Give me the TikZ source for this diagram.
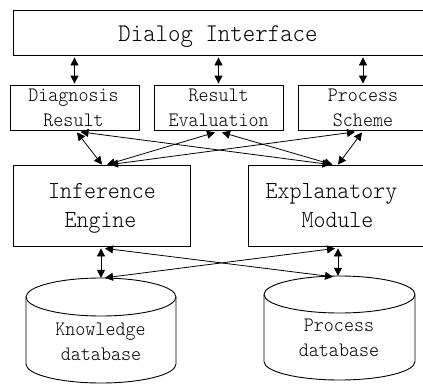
\documentclass[tikz,border=0pt]{standalone}
\usepackage{fontspec}
\usetikzlibrary{arrows.meta,calc}
\newfontfamily\lightmono{lmmonolt10-regular}[Extension=.otf,FakeStretch=0.93]
\begin{document}
\begin{tikzpicture}[x=1pt,y=-1pt,
  box/.style={draw,line width=0.8pt,inner sep=0pt},
  txt/.style={inner sep=0pt,anchor=base},
  bigtxt/.style={txt,font=\lightmono\fontsize{25.5}{30}\selectfont},
  midtxt/.style={txt,font=\lightmono\fontsize{24.5}{30}\selectfont},
  smalltxt/.style={txt,font=\lightmono\fontsize{20.5}{24}\selectfont},
  dbbody/.style={inner sep=0pt},
  dbline/.style={line width=0.9pt},
  conn/.style={line width=0.8pt,{Triangle[length=8pt,width=8pt]}-{Triangle[length=8pt,width=8pt]}}]
\useasboundingbox (0,0) rectangle (423,383);

% top-level interface
\node[box,minimum width=412pt,minimum height=45pt] (dlg) at (219,32.5) {};
\node[bigtxt] (dlgT) at (218,41.5) {Dialog Interface};

% output modules
\node[box,minimum width=129pt,minimum height=45pt] (diag) at (74.5,107.5) {};
\node[smalltxt] (diagA) at (73.5,101.7) {Diagnosis};
\node[smalltxt] (diagB) at (73.5,126) {Result};

\node[box,minimum width=129pt,minimum height=45pt] (eval) at (218.5,107.5) {};
\node[smalltxt] (evalA) at (218.6,101.7) {Result};
\node[smalltxt] (evalB) at (218.6,126) {Evaluation};

\node[box,minimum width=130pt,minimum height=45pt] (proc) at (363,107.5) {};
\node[smalltxt] (procA) at (363,101.7) {Process};
\node[smalltxt] (procB) at (363,126) {Scheme};

% reasoning modules
\node[box,minimum width=177pt,minimum height=81pt] (inf) at (101.5,205.5) {};
\node[midtxt] (infA) at (102,198.2) {Inference};
\node[midtxt] (infB) at (100.5,227.8) {Engine};

\node[box,minimum width=177pt,minimum height=81pt] (expl) at (336.5,205.5) {};
\node[midtxt] (explA) at (331.5,198) {Explanatory};
\node[midtxt] (explB) at (337.5,227.5) {Module};

% databases
\node[dbbody,minimum width=150pt,minimum height=105pt] (kdb) at (101,330.5) {};
\draw[dbline] (101,297) ellipse [x radius=75pt,y radius=19pt];
\draw[dbline] (26,297) -- (26,364) arc[start angle=180,end angle=360,x radius=75pt,y radius=19pt] -- (176,297);
\node[smalltxt] (kdbA) at (100.5,335) {Knowledge};
\node[smalltxt] (kdbB) at (101,360) {database};

\node[dbbody,minimum width=151pt,minimum height=104pt] (pdb) at (339.5,328) {};
\draw[dbline] (339.5,294.5) ellipse [x radius=75.5pt,y radius=18.5pt];
\draw[dbline] (264,294.5) -- (264,361.5) arc[start angle=180,end angle=360,x radius=75.5pt,y radius=18.5pt] -- (415,294.5);
\node[smalltxt] (pdbA) at (339,331.7) {Process};
\node[smalltxt] (pdbB) at (339,356) {database};

% interface links
\draw[conn,shorten <=2pt,shorten >=1pt] (dlg.south -| diag.north) -- (diag.north);
\draw[conn,shorten <=2pt,shorten >=1pt] (dlg.south -| eval.north) -- (eval.north);
\draw[conn,shorten <=2pt,shorten >=1pt] (dlg.south -| proc.north) -- (proc.north);

% module cross links
\draw[conn] ($(diag.south)+(2.5,2)$) -- ($(inf.north)+(0.5,0)$);
\draw[conn] ($(diag.south)+(6,1.5)$) -- ($(expl.north)+(-6,0)$);
\draw[conn] ($(eval.south)+(-3.5,2)$) -- ($(inf.north)+(5.5,0)$);
\draw[conn] ($(eval.south)+(3.5,2)$) -- ($(expl.north)+(-4,0)$);
\draw[conn] ($(proc.south)+(-8,1.5)$) -- ($(inf.north)+(8.5,0)$);
\draw[conn] ($(proc.south)+(-1,2)$) -- ($(expl.north)+(1.5,0)$);

% database links
\draw[conn] ($(inf.south)+(-0.5,2)$) -- (kdb.north);
\draw[conn] ($(inf.south)+(3.5,2)$) -- ($(pdb.north)+(-6.5,1)$);
\draw[conn] ($(expl.south)+(-1.5,2)$) -- ($(kdb.north)+(4,0)$);
\draw[conn] ($(expl.south)+(1.5,2)$) -- ($(pdb.north)+(-1.5,0)$);
\end{tikzpicture}
\end{document}
